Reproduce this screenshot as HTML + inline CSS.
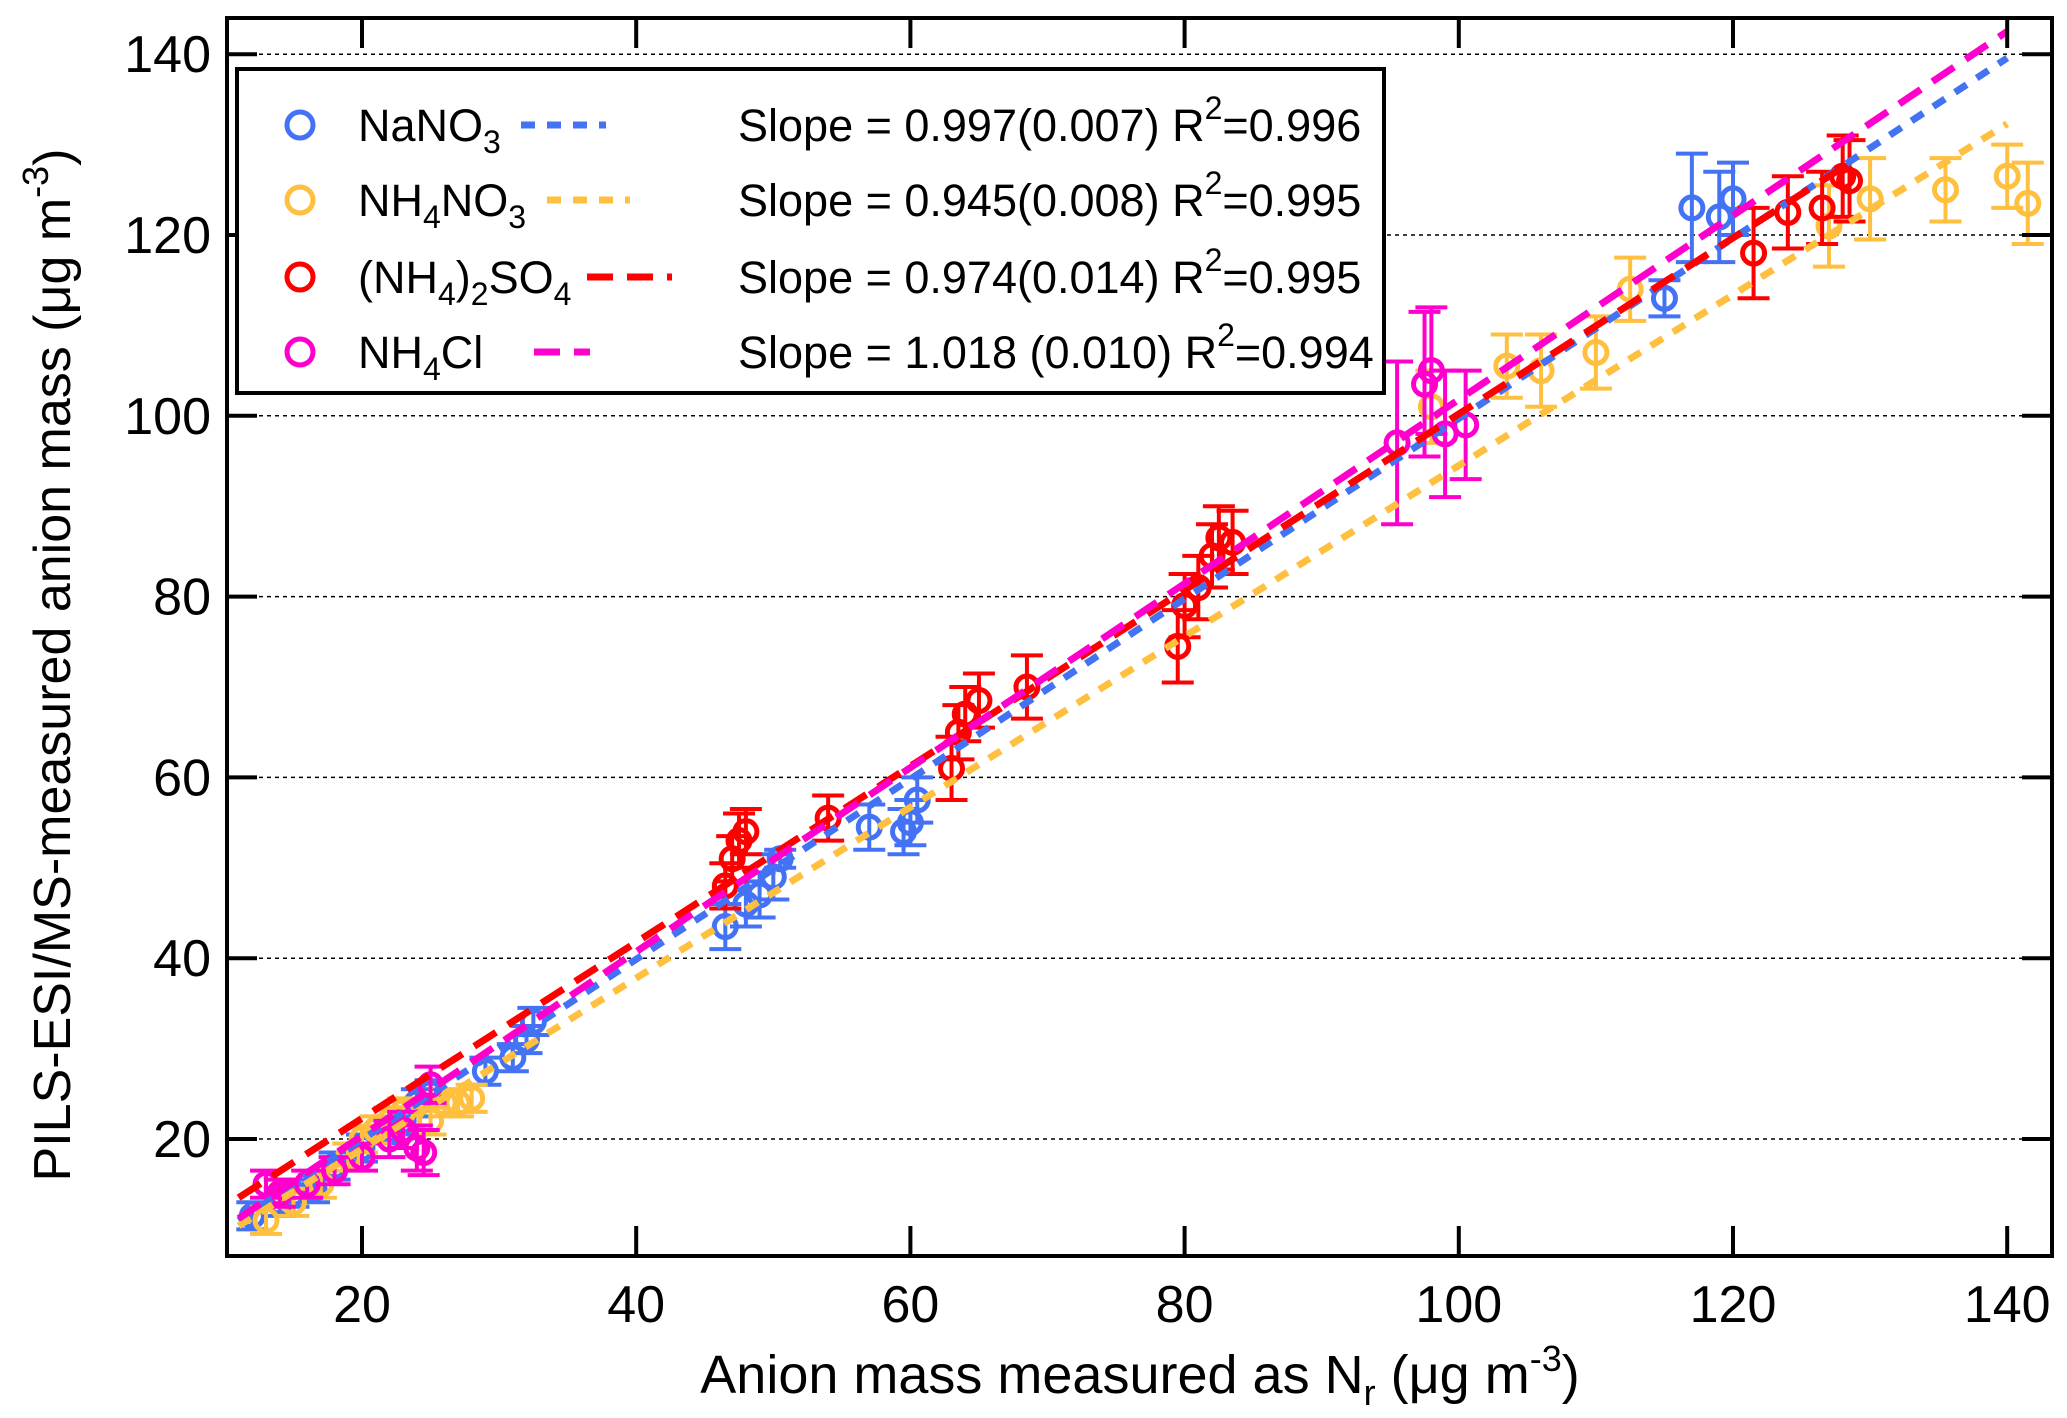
<!DOCTYPE html>
<html><head><meta charset="utf-8"><style>
html,body{margin:0;padding:0;background:#fff}
svg{display:block;font-family:"Liberation Sans",Arial,sans-serif}
</style></head><body>
<svg id="chart" width="2067" height="1418" viewBox="0 0 2067 1418" xmlns="http://www.w3.org/2000/svg"></svg>
<script>
// ---- data ----
const xTicks=[20,40,60,80,100,120,140];
const yTicks=[20,40,60,80,100,120,140];
const naX=[12,14,15,16.5,18,20,22,23,24,25,29,31,32,32.5,46.5,48,49,50,50.5,57,59.5,60,60.5,115,117,119,120];
const naY=[11.5,13,14,14.5,17,19,21,22,24,25,27.5,29,31,33,43.5,46,47,49,51,54.5,54,55,57.5,113,123,122,124];
const naE=[1.5,1.5,1.5,1.5,1.5,1.5,1.5,1.5,1.5,1.5,1.5,1.5,1.5,1.5,2.5,2.5,2.5,2.5,1,2.5,2.5,2.5,2.5,2,6,5,4];
const amX=[13,15,17,19,20,21,22,23,25,26,27,28,98,103.5,106,110,112.5,127,130,135.5,140,141.5];
const amY=[11,13,15,18,20,21,22,23,22,24,24,24.5,101,105.5,105,107,114,121,124,125,126.5,123.5];
const amE=[1.5,1.5,1.5,1.5,1.5,1.5,1.5,1.5,1.5,1.5,1.5,1.5,4,3.5,4,4,3.5,4.5,4.5,3.5,3.5,4.5];
const asX=[46.5,47,47.5,48,54,63,63.5,64,65,68.5,79.5,80,81,82,82.5,83.5,121.5,124,126.5,128,128.5];
const asY=[48,51,53,54,55.5,61,65,67,68.5,70,74.5,79,81,84.5,86.5,86,118,122.5,123,126.5,126];
const asE=[2.5,2.5,3,2.5,2.5,3.5,3,3,3,3.5,4,3.5,3.5,3.5,3.5,3.5,5,4,4,4.5,4.5];
const acX=[13,14,16,18,20,22,23,24,24.5,25,95.5,97.5,98,99,100.5];
const acY=[15,14,15,16.5,18,20,21,19,18.5,26,97,103.5,105,98,99];
const acE=[1.5,1.5,1.5,1.5,1.5,2,2,2.5,2.5,2,9,8,7,7,6];
const fitSlope=[0.997,0.945,0.974,1.018];
const fitInt=[0,0,2.8,0];
const fitX0=[11,11,11,11];
const fitX1=[140,140,128,140];
const names=["NaNO3","NH4NO3","(NH4)2SO4","NH4Cl"];
// ---- layout ----
const L=227,R=2052,T=18,B=1256;
const xs=v=>362+(v-20)*13.71;
const ys=v=>1139-(v-20)*9.04;
const colors=["#4472f4","#ffbf3f","#ff0000","#ff00cc"];
const dashes=["14,12","14,12","26,14","26,14"];
const svg=document.getElementById('chart');
const NS="http://www.w3.org/2000/svg";
function mk(tag,attrs,parent){const e=document.createElementNS(NS,tag);for(const k in attrs)e.setAttribute(k,attrs[k]);(parent||svg).appendChild(e);return e;}
yTicks.forEach(v=>{const g=mk('line',{x1:L,x2:R,y1:ys(v),y2:ys(v),stroke:'#000','stroke-width':1.5,'stroke-dasharray':'4,4'});

});
const series=[[naX,naY,naE],[amX,amY,amE],[asX,asY,asE],[acX,acY,acE]];
series.forEach((s,si)=>{const grp=mk('g',{});


s[0].forEach((x,i)=>{const cx=xs(x),cy=ys(s[1][i]),t=ys(s[1][i]+s[2][i]),b=ys(s[1][i]-s[2][i]);const c=colors[si];
const e=mk('path',{d:`M${cx},${t}V${b}M${cx-16},${t}H${cx+16}M${cx-16},${b}H${cx+16}`,stroke:c,'stroke-width':4,fill:'none'},grp);


const p=mk('circle',{cx:cx,cy:cy,r:11,fill:'none',stroke:c,'stroke-width':5},grp);

});});
fitSlope.forEach((m,i)=>{const l=mk('line',{x1:xs(fitX0[i]),y1:ys(m*fitX0[i]+fitInt[i]),x2:xs(fitX1[i]),y2:ys(m*fitX1[i]+fitInt[i]),stroke:colors[i],'stroke-width':7,'stroke-dasharray':dashes[i]});

});
const fr=mk('rect',{x:L,y:T,width:R-L,height:B-T,fill:'none',stroke:'#000','stroke-width':4});


xTicks.forEach(v=>{const x=xs(v);
mk('path',{d:`M${x},${B}V${B-30}M${x},${T}V${T+30}`,stroke:'#000','stroke-width':4});
const t=mk('text',{x:x,y:B+66,'font-size':52,'text-anchor':'middle'});t.textContent=v;

});
yTicks.forEach(v=>{const y=ys(v);
mk('path',{d:`M${L},${y}H${L+30}M${R},${y}H${R-30}`,stroke:'#000','stroke-width':4});
const t=mk('text',{x:L-16,y:y+18,'font-size':52,'text-anchor':'end'});t.textContent=v;

});
</script>
<svg style="position:absolute;left:0;top:0" width="2067" height="1418">
<text x="1140" y="1393" font-size="54" text-anchor="middle" font-family="Liberation Sans, sans-serif">Anion mass measured as N<tspan font-size="36" dy="12">r</tspan><tspan dy="-12"> (μg m</tspan><tspan font-size="36" dy="-22">-3</tspan><tspan dy="22">)</tspan></text>
<text transform="translate(70,665) rotate(-90)" font-size="52" text-anchor="middle" font-family="Liberation Sans, sans-serif">PILS-ESI/MS-measured anion mass (μg m<tspan font-size="36" dy="-22">-3</tspan><tspan dy="22">)</tspan></text>
<g font-family="Liberation Sans, sans-serif" font-size="45">
<rect x="237" y="69" width="1147" height="324" fill="#fff" stroke="#000" stroke-width="4"/>
<g><circle cx="300" cy="125" r="13" fill="none" stroke="#4472f4" stroke-width="5"/><text x="358" y="141">NaNO<tspan font-size="32" dy="12">3</tspan></text><line x1="521" x2="606" y1="125" y2="125" stroke="#4472f4" stroke-width="7" stroke-dasharray="14,12"/><text x="738" y="141">Slope = 0.997(0.007)  R<tspan font-size="32" dy="-22">2</tspan><tspan dy="22">=0.996</tspan></text></g>
<g><circle cx="300" cy="200" r="13" fill="none" stroke="#ffbf3f" stroke-width="5"/><text x="358" y="216">NH<tspan font-size="32" dy="12">4</tspan><tspan dy="-12">NO</tspan><tspan font-size="32" dy="12">3</tspan></text><line x1="547" x2="630" y1="200" y2="200" stroke="#ffbf3f" stroke-width="7" stroke-dasharray="14,12"/><text x="738" y="216">Slope = 0.945(0.008)  R<tspan font-size="32" dy="-22">2</tspan><tspan dy="22">=0.995</tspan></text></g>
<g><circle cx="300" cy="277" r="13" fill="none" stroke="#ff0000" stroke-width="5"/><text x="358" y="293">(NH<tspan font-size="32" dy="12">4</tspan><tspan dy="-12">)</tspan><tspan font-size="32" dy="12">2</tspan><tspan dy="-12">SO</tspan><tspan font-size="32" dy="12">4</tspan></text><line x1="587" x2="672" y1="277" y2="277" stroke="#ff0000" stroke-width="7" stroke-dasharray="26,14"/><text x="738" y="293">Slope = 0.974(0.014) R<tspan font-size="32" dy="-22">2</tspan><tspan dy="22">=0.995</tspan></text></g>
<g><circle cx="300" cy="352" r="13" fill="none" stroke="#ff00cc" stroke-width="5"/><text x="358" y="368">NH<tspan font-size="32" dy="12">4</tspan><tspan dy="-12">Cl</tspan></text><line x1="534" x2="590" y1="352" y2="352" stroke="#ff00cc" stroke-width="7" stroke-dasharray="26,14"/><text x="738" y="368">Slope = 1.018 (0.010) R<tspan font-size="32" dy="-22">2</tspan><tspan dy="22">=0.994</tspan></text></g>
</g>
</svg>
</body></html>
